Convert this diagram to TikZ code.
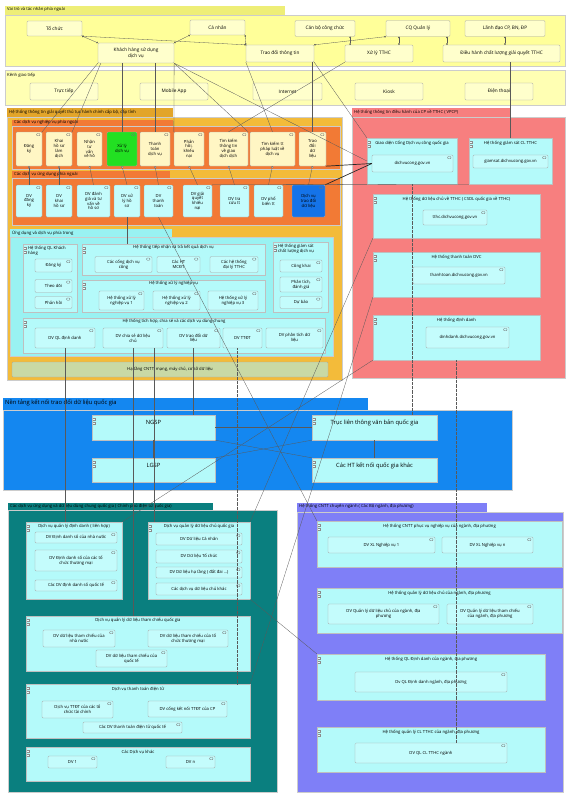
\documentclass[tikz,border=0pt]{standalone}
\usepackage{fontspec}
\setmainfont{Open Sans}
\usetikzlibrary{arrows.meta}

\definecolor{ygrp}{HTML}{FFFF99}
\definecolor{ytab}{HTML}{EEEE77}
\definecolor{ykenh}{HTML}{FFFFB3}
\definecolor{yitem}{HTML}{FFFFCC}
\definecolor{goldgrp}{HTML}{F3BB3A}
\definecolor{goldtab}{HTML}{E2A52A}
\definecolor{orng}{HTML}{F27A35}
\definecolor{oitem}{HTML}{FFF6C4}
\definecolor{cyanbg}{HTML}{99F2F2}
\definecolor{cyanbox}{HTML}{B4FAFA}
\definecolor{cyanitem}{HTML}{C4FCFC}
\definecolor{infra}{HTML}{C9D9A5}
\definecolor{salmon}{HTML}{F77F7F}
\definecolor{blueband}{HTML}{1487F0}
\definecolor{tealgrp}{HTML}{0A7F7F}
\definecolor{purp}{HTML}{7F7FF7}
\definecolor{greenit}{HTML}{22E022}
\definecolor{blueit}{HTML}{1573E8}

\begin{document}
\begin{tikzpicture}[x=1pt,y=-1pt,
  wh/.style 2 args={minimum width=#1pt,minimum height=#2pt},
  txt/.style={font=\fontsize{4.2}{4.9}\selectfont, inner sep=1pt},
  item/.style={txt, draw=black!35, fill=#1, rounded corners=1.2pt, align=center, inner sep=0.5pt, line width=0.3pt},
  yitm/.style={item=yitem, font=\fontsize{4.7}{5.5}\selectfont},
  svc/.style={item=#1, path picture={\draw[black!55,line width=0.3pt,rounded corners=0.8pt] ([xshift=-5.5pt,yshift=-1.5pt]path picture bounding box.north east) rectangle ++(3.5pt,-2.2pt);}},
  cbox/.style={draw=black!25, fill=#1, line width=0.3pt, inner sep=0pt,
    path picture={\foreach \dy in {3,7}{\draw[black!45,fill=white!70!#1,line width=0.3pt] ([xshift=0.6pt,yshift=-\dy pt]path picture bounding box.north west) rectangle ++(2.6pt,-2.2pt);}}},
  clbl/.style={txt, anchor=north, align=center},
  blbl/.style={clbl, font=\fontsize{5.8}{7}\selectfont},
  glbl/.style={txt, anchor=north west},
  grp/.style={fill=#1, draw=black!20, line width=0.2pt},
  conn/.style={draw=black!65, line width=0.3pt},
  dconn/.style={conn, densely dotted},
  thk/.style={draw=black!85, line width=0.7pt},
  asg/.style={conn, {Circle[length=1.6pt]}-{Circle[length=1.6pt]}},
  real/.style={conn, {Circle[length=2.2pt,fill=white]}-},
]
\useasboundingbox (0,0) rectangle (573,800);

% groups
\fill[ytab] (5,6) rectangle (285,15);
\fill[grp=ygrp] (5,15) rectangle (565,66);
\node[glbl] at (6,6.5) {Vai trò và tác nhân phía ngoài};
\fill[grp=ykenh] (5,70) rectangle (565,105);
\node[glbl] at (6,72) {Kênh giao tiếp};

\fill[goldtab] (7,108) rectangle (173,117);
\fill[grp=goldgrp] (7,117) rectangle (342,380);
\node[glbl] at (8,108.5) {Hệ thống thông tin giải quyết thủ tục hành chính cấp bộ, cấp tỉnh};
\fill[orng] (12,120) rectangle (173,126);
\fill[grp=orng] (12,126) rectangle (340,169);
\node[glbl] at (13,119.5) {Các dịch vụ nghiệp vụ phía ngoài};
\fill[orng] (12,171) rectangle (170,178);
\fill[grp=orng] (12,178) rectangle (340,225);
\node[glbl] at (13,171) {Các dịch vụ ứng dụng phía ngoài};
\fill[cyanbg] (10,229) rectangle (172,237);
\fill[grp=cyanbg] (10,237) rectangle (333,356);
\node[glbl] at (11,229) {Ứng dụng và dịch vụ phía trong};

\fill[salmon] (352,108) rectangle (510,117);
\fill[grp=salmon] (352,117) rectangle (565,378);
\node[glbl] at (353,108.5) {Hệ thống thông tin điều hành của CP về TTHC ( VPCP)};

\fill[blueband] (3,398) rectangle (368,410);
\fill[grp=blueband] (3,410) rectangle (512,490);
\node[glbl, font=\fontsize{5.8}{7}\selectfont] at (4,398) {Nền tảng kết nối trao đổi dữ liệu quốc gia};

\fill[tealgrp] (8,503) rectangle (213,510);
\fill[grp=tealgrp] (8,510) rectangle (277,792);
\node[glbl] at (9,502.5) {Các dịch vụ ứng dụng và dữ liệu dùng chung quốc gia ( Chính phủ điện tử quốc gia)};

\fill[purp] (297,503) rectangle (487,512);
\fill[grp=purp] (297,512) rectangle (563,792);
\node[glbl] at (298,503) {Hệ thống CNTT chuyên ngành ( Các Bộ ngành, địa phương)};

% actors and roles
\node[yitm, wh={55}{15}] (tochuc) at (54.5,28.5) {Tổ chức};
\node[yitm, wh={55}{15}] (canhan) at (217.5,27.5) {Cá nhân};
\node[yitm, wh={60}{16}] (canbo) at (325,28.5) {Cán bộ công chức};
\node[yitm, wh={64}{16}] (cqql) at (418,28.5) {CQ Quản lý};
\node[yitm, wh={80}{16}] (lanhdao) at (505,28.5) {Lãnh đạo CP, BN, ĐP};
\node[yitm, wh={76}{20}] (khachhang) at (136,53) {Khách hàng sử dụng\\dịch vụ};
\node[yitm, wh={68}{17}] (traodoi) at (280,53.5) {Trao đổi thông tin};
\node[yitm, wh={68}{17}] (xuly) at (379,53.5) {Xử lý TTHC};
\node[yitm, wh={117}{17}] (dieuhanh) at (501.5,53.5) {Điều hành chất lượng giải quyết TTHC};

% channels
\node[yitm, wh={68}{17}] (tructiep) at (64,91.5) {Trực tiếp};
\node[yitm, wh={68}{17}] (mobile) at (174,91.5) {Mobile App};
\node[yitm, wh={69}{17}] (internet) at (287.5,91.5) {Internet};
\node[yitm, wh={68}{17}] (kiosk) at (389,91.5) {Kiosk};
\node[yitm, wh={68}{17}] (dienthoai) at (499,91.5) {Điện thoại};

% business services
\node[svc=oitem, wh={26}{34}] (dangky1) at (29,149) {Đăng\\ký};
\node[svc=oitem, wh={26}{34}] (khaihs) at (59,149) {Khai\\hồ sơ\\làm\\dịch};
\node[svc=oitem, wh={25}{34}] (nhantv) at (89.5,149) {Nhận\\tư\\vấn\\về hồ};
\node[svc=greenit, wh={30}{34}] (xulydv) at (122,149) {Xử lý\\dịch vụ};
\node[svc=oitem, wh={30}{34}] (thanhtoan1) at (155,149) {Thanh\\toán\\dịch vụ};
\node[svc=oitem, wh={30}{34}] (phanhoi) at (189,149) {Phản\\hồi,\\khiếu\\nại};
\node[svc=oitem, wh={39}{34}] (timkiem) at (228.5,149) {Tìm kiếm\\thông tin\\về giao\\dịch dịch};
\node[svc=oitem, wh={45}{34}] (timkiemtt) at (272.5,149) {Tìm kiếm tt\\pháp luật về\\dịch vụ};
\node[svc=oitem, wh={27}{34}] (traodoidl) at (312.5,149) {Trao\\đổi\\dữ\\liệu};

% application services
\node[svc=cyanitem, wh={26}{32}] (dvdangky) at (29,201) {DV\\đăng\\ký};
\node[svc=cyanitem, wh={26}{32}] (dvkhai) at (59,201) {DV\\khai\\hồ sơ};
\node[svc=cyanitem, wh={33}{32}] (dvdanhgia) at (93.5,201) {DV đánh\\giá và tư\\vấn về\\hồ sơ};
\node[svc=cyanitem, wh={26}{32}] (dvxuly) at (127,201) {DV xử\\lý hồ\\sơ};
\node[svc=cyanitem, wh={29}{32}] (dvthanhtoan) at (158.5,201) {DV\\thanh\\toán};
\node[svc=cyanitem, wh={29}{32}] (dvkhieunai) at (197.5,201) {DV giải\\quyết\\khiếu\\nại};
\node[svc=cyanitem, wh={29}{32}] (dvtracuu) at (234.5,201) {DV tra\\cứu tt};
\node[svc=cyanitem, wh={29}{32}] (dvphobien) at (268.5,201) {DV phổ\\biến tt};
\node[svc=blueit, wh={33}{32}] (dvtraodoi) at (308.5,201) {Dịch vụ\\trao đổi\\dữ liệu};

% internal applications
\node[cbox=cyanbox, wh={54}{68}] (qlkh) at (50,278) {};
\node[glbl, align=left] at ([xshift=4pt,yshift=-1pt]qlkh.north west) {Hệ thống QL Khách\\hàng};
\node[svc=cyanitem, wh={37}{13}] (khdangky) at (53.5,265.5) {Đăng ký};
\node[svc=cyanitem, wh={37}{13}] (theodoi) at (53.5,286) {Theo dõi};
\node[svc=cyanitem, wh={37}{12}] (phanhoikh) at (53.5,302.5) {Phản hồi};

\node[cbox=cyanbox, wh={183}{31}] (tiepnhan) at (173.5,259.5) {};
\node[clbl] at ([yshift=-0.5pt]tiepnhan.north) {Hệ thống tiếp nhận và trả kết quả dịch vụ};
\node[svc=cyanitem, wh={57}{16}] (congdvc) at (123.5,264.5) {Các cổng dịch vụ\\công};
\node[svc=cyanitem, wh={43}{16}] (htmcdt) at (178.5,264.5) {Các HT\\MCĐT};
\node[svc=cyanitem, wh={48}{16}] (dailytthc) at (234,264.5) {Các hệ thống\\đại lý TTHC};

\node[cbox=cyanbox, wh={183}{32}] (xulynv) at (173.5,296) {};
\node[clbl] at ([yshift=-0.5pt]xulynv.north) {Hệ thống xử lý nghiệp vụ};
\node[svc=cyanitem, wh={45}{19}] (nv1) at (121.5,300.5) {Hệ thống xử lý\\nghiệp vụ 1};
\node[svc=cyanitem, wh={47}{19}] (nv2) at (176.5,300.5) {Hệ thống xử lý\\nghiệp vụ 2};
\node[svc=cyanitem, wh={50}{19}] (nv3) at (233,300.5) {Hệ thống xử lý\\nghiệp vụ 3};

\node[cbox=cyanbox, wh={55}{70}] (giamsatcl) at (300.5,277) {};
\node[glbl, align=left] at ([xshift=4pt,yshift=-1pt]giamsatcl.north west) {Hệ thống giám sát\\chất lượng dịch vụ};
\node[svc=cyanitem, wh={42}{12}] (congkhai) at (301,266) {Công khai};
\node[svc=cyanitem, wh={42}{15}] (phantich) at (301,284.5) {Phân tích,\\đánh giá};
\node[svc=cyanitem, wh={42}{12}] (dubao) at (301,302.5) {Dự báo};

\node[cbox=cyanbox, wh={302}{35}] (tichhop) at (174,335.5) {};
\node[clbl] at ([yshift=-0.5pt]tichhop.north) {Hệ thống tích hợp, chia sẻ và các dịch vụ dùng chung};
\node[svc=cyanitem, wh={60}{20}] (dvqldd) at (65,338) {DV QL định danh};
\node[svc=cyanitem, wh={60}{20}] (dvchiase) at (133,338) {DV chia sẻ dữ liệu\\chủ};
\node[svc=cyanitem, wh={53}{20}] (dvtraodoidl) at (193.5,338) {DV trao đổi dữ\\liệu};
\node[svc=cyanitem, wh={39}{20}] (dvttdt) at (242.5,338) {DV TTĐT};
\node[svc=cyanitem, wh={57}{20}] (dvphantich) at (294.5,338) {DV phân tích dữ\\liệu};

\node[item=infra, wh={316}{15}] (hatang) at (170,369.5) {Hạ tầng CNTT, mạng, máy chủ, cơ sở dữ liệu};

% government portal systems
\node[cbox=cyanbox, wh={90}{46}] (congdvc_qg) at (412,161) {};
\node[clbl] at ([yshift=-2pt]congdvc_qg.north) {Giao diện Cổng Dịch vụ công quốc gia};
\node[svc=cyanitem, wh={81}{17}] (dichvucong) at (412.5,163.5) {dichvucong.gov.vn};
\node[cbox=cyanbox, wh={83}{46}] (giamsat) at (510.5,161) {};
\node[clbl] at ([yshift=-2pt]giamsat.north) {Hệ thống giám sát CL TTHC};
\node[svc=cyanitem, wh={75}{13}] (giamsatdv) at (510.5,161.5) {giamsat.dichvucong.gov.vn};
\node[cbox=cyanbox, wh={167}{44}] (csdltthc) at (456.5,216) {};
\node[clbl] at ([yshift=-2pt]csdltthc.north) {Hệ thống dữ liệu chủ về TTHC ( CSDL quốc gia về TTHC)};
\node[svc=cyanitem, wh={64}{15}] (tthcdv) at (455,217.5) {tthc.dichvucong.gov.vn};
\node[cbox=cyanbox, wh={167}{45}] (thanhtoandvc) at (456.5,274.5) {};
\node[clbl] at ([yshift=-2pt]thanhtoandvc.north) {Hệ thống thanh toán DVC};
\node[svc=cyanitem, wh={92}{17}] (thanhtoandv) at (459,275.5) {thanhtoan.dichvucong.gov.vn};
\node[cbox=cyanbox, wh={167}{45}] (dinhdanh) at (456.5,337.5) {};
\node[clbl] at ([yshift=-2pt]dinhdanh.north) {Hệ thống định danh};
\node[svc=cyanitem, wh={83}{21}] (dinhdanhdv) at (467.5,337.5) {dinhdanh.dichvucong.gov.vn};

% national data exchange
\node[cbox=cyanbox, wh={123}{25}] (ngsp) at (153.5,427.5) {};
\node[blbl] at ([yshift=-4pt]ngsp.north) {NGSP};
\node[cbox=cyanbox, wh={123}{24}] (lgsp) at (153.5,470) {};
\node[blbl] at ([yshift=-4pt]lgsp.north) {LGSP};
\node[cbox=cyanbox, wh={125}{25}] (truc) at (374.5,427.5) {};
\node[blbl] at ([yshift=-4pt]truc.north) {Trục liên thông văn bản quốc gia};
\node[cbox=cyanbox, wh={125}{24}] (cacht) at (374.5,470) {};
\node[blbl] at ([yshift=-4pt]cacht.north) {Các HT kết nối quốc gia khác};

% national shared services
\node[cbox=cyanbox, wh={96}{77}] (qldd) at (74,560.5) {};
\node[clbl] at ([yshift=-1pt]qldd.north) {Dịch vụ quản lý định danh ( liên hợp)};
\node[svc=cyanitem, wh={82}{11}] (dd1) at (76,537.5) {DV Định danh số của nhà nước};
\node[svc=cyanitem, wh={82}{21}] (dd2) at (76,560.5) {DV Định danh số của các tổ\\chức thương mại};
\node[svc=cyanitem, wh={82}{11}] (dd3) at (76,585.5) {Các DV định danh số quốc tế};

\node[cbox=cyanbox, wh={102}{77}] (qldlc) at (199,560.5) {};
\node[clbl] at ([yshift=-1pt]qldlc.north) {Dịch vụ quản lý dữ liệu chủ quốc gia};
\node[svc=cyanitem, wh={86}{12}] (dl1) at (199,539) {DV Dữ liệu Cá nhân};
\node[svc=cyanitem, wh={86}{13}] (dl2) at (199,556.5) {DV Dữ liệu Tổ chức};
\node[svc=cyanitem, wh={86}{11}] (dl3) at (199,572.5) {DV Dữ liệu hạ tầng ( đất đai ...)};
\node[svc=cyanitem, wh={86}{12}] (dl4) at (199,589) {Các dịch vụ dữ liệu chủ khác};

\node[cbox=cyanbox, wh={224}{55}] (qltc) at (138,643.5) {};
\node[clbl] at ([yshift=-1pt]qltc.north) {Dịch vụ quản lý dữ liệu tham chiếu quốc gia};
\node[svc=cyanitem, wh={72}{17}] (tc1) at (79,638.5) {DV dữ liệu tham chiếu của\\nhà nước};
\node[svc=cyanitem, wh={80}{17}] (tc2) at (188,638.5) {DV dữ liệu tham chiếu của tổ\\chức thương mại};
\node[svc=cyanitem, wh={71}{17}] (tc3) at (131.5,658.5) {DV dữ liệu tham chiếu của\\quốc tế};

\node[cbox=cyanbox, wh={224}{54}] (tt) at (138,711) {};
\node[clbl] at ([yshift=-2pt]tt.north) {Dịch vụ thanh toán điện tử};
\node[svc=cyanitem, wh={71}{17}] (tt1) at (77.5,709.5) {Dịch vụ TTĐT của các tổ\\chức tài chính};
\node[svc=cyanitem, wh={79}{16}] (tt2) at (187.5,709) {DV cổng kết nối TTĐT của CP};
\node[svc=cyanitem, wh={99}{11}] (tt3) at (132.5,727.5) {Các DV thanh toán điện tử quốc tế};

\node[cbox=cyanbox, wh={224}{34}] (khac) at (138,764) {};
\node[clbl] at ([yshift=-2pt]khac.north) {Các Dịch vụ khác};
\node[svc=cyanitem, wh={49}{12}] (dv1) at (72.5,762) {DV 1};
\node[svc=cyanitem, wh={49}{12}] (dvn) at (190.5,762) {DV n};

% sector systems
\node[cbox=cyanbox, wh={245}{46}] (p1) at (439.5,544) {};
\node[clbl] at ([yshift=-2pt]p1.north) {Hệ thống CNTT phục vụ nghiệp vụ của ngành, địa phương};
\node[svc=cyanitem, wh={107}{16}] (pn1) at (381.5,545) {DV XL Nghiệp vụ 1};
\node[svc=cyanitem, wh={91}{16}] (pnn) at (487.5,545) {DV XL Nghiệp vụ n};
\node[cbox=cyanbox, wh={245}{45}] (p2) at (439.5,610.5) {};
\node[clbl] at ([yshift=-2pt]p2.north) {Hệ thống quản lý dữ liệu chủ của ngành, địa phương};
\node[svc=cyanitem, wh={111}{20}] (pd1) at (383.5,614) {DV Quản lý dữ liệu chủ của ngành, địa\\phương};
\node[svc=cyanitem, wh={86}{20}] (pd2) at (490,614) {DV Quản lý dữ liệu tham chiếu\\của ngành, địa phương};
\node[cbox=cyanbox, wh={228}{46}] (p3) at (431,677) {};
\node[clbl] at ([yshift=-2pt]p3.north) {Hệ thống QL Định danh của ngành, địa phương};
\node[svc=cyanitem, wh={152}{20}] (pdd) at (431,682) {Dv QL Định danh ngành, địa phương};
\node[cbox=cyanbox, wh={228}{45}] (p4) at (431,749.5) {};
\node[clbl] at ([yshift=-2pt]p4.north) {Hệ thống quản lý CL TTHC của ngành, địa phương};
\node[svc=cyanitem, wh={152}{20}] (pcl) at (431,753) {DV QL CL TTHC ngành};

% assignments
\draw[asg] (tochuc.south east) -- (khachhang.north west);
\draw[asg] (tochuc.south east) -- (traodoi.north west);
\draw[asg] (canhan.south west) -- (khachhang.north east);
\draw[asg] (canhan.south east) -- (traodoi.north west);
\draw[asg] (cqql.south west) -- (traodoi.north east);
\draw[asg] ([xshift=-5pt]canbo.south east) -- ([xshift=-5pt]canbo.south east |- xuly.north);
\draw[asg] ([xshift=-19pt]cqql.south) -- ([xshift=-19pt]cqql.south |- xuly.north);
\draw[asg] ([xshift=29pt]cqql.south) -- ([xshift=29pt]cqql.south |- dieuhanh.north);
\draw[asg] (lanhdao.south) -- (lanhdao.south |- dieuhanh.north);

% customer and roles to services
\draw[conn] (khachhang.south west) -- (dangky1.north east);
\draw[conn] ([xshift=3pt]khachhang.south west) -- (khaihs.north east);
\draw[conn] (khachhang.south -| xulydv.north) -- (xulydv.north);
\draw[conn] (khachhang.south -| thanhtoan1.north) -- (thanhtoan1.north);
\draw[conn] (khachhang.south east) -- (phanhoi.north west);
\draw[conn] (khachhang.south east) -- (timkiem.north east);
\draw[conn] (khachhang.south east) -- (congdvc_qg.west);
\draw[conn] (traodoi.south west) -- (timkiemtt.north);
\draw[conn] (traodoi.south -| traodoidl.north) -- (traodoidl.north);
\draw[conn] (traodoi.south east) -- (congdvc_qg.north west);
\draw[conn] (xuly.south west) -- (timkiem.north);
\draw[conn] (dieuhanh.south -| giamsat.north) -- (giamsat.north);

% realizations
\foreach \a/\b in {dangky1/dvdangky, khaihs/dvkhai, nhantv/dvdanhgia, xulydv/dvxuly, thanhtoan1/dvthanhtoan, phanhoi/dvkhieunai, timkiem/dvtracuu, timkiemtt/dvphobien, traodoidl/dvtraodoi}
  \draw[real] (\a.south) -- (\b.north);

\draw[thk] (dvtraodoi.north east) -- (dichvucong.west);
\draw[thk] (traodoidl.south east) -- (dichvucong.west);
\draw[conn] (dvphobien.north east) -- (congdvc_qg.south west);
\draw[conn] (dvkhieunai.north east) -- (giamsat.south west);
\draw[conn] (dvxuly.south) -- (dvxuly.south |- tiepnhan.north);
\draw[conn] (dvthanhtoan.south) -- (p1.north west);

% shared services downwards
\draw[conn] (dvqldd.south) -- (dvqldd.south |- qldd.north);
\draw[conn] (dvchiase.south) -- (dvchiase.south |- qltc.north);
\draw[conn] ([xshift=21pt]dvchiase.south) -- ([xshift=21pt]dvchiase.south |- qldlc.north);
\draw[conn] (dvtraodoidl.south) -- (dvtraodoidl.south |- ngsp.north);
\draw[dconn] ([xshift=-5pt]dvttdt.south) -- ([xshift=-5pt]dvttdt.south |- tt.north);

% data exchange
\draw[conn] (ngsp.east) -- (truc.west);
\draw[conn] (lgsp.north) -- (ngsp.south);
\draw[conn] (cacht.north) -- (truc.south);
\draw[conn] (lgsp.north east) -- (truc.south west);
\draw[conn] (ngsp.south east) -- (cacht.north west);

% portal systems downwards
\draw[dconn] (congdvc_qg.south) -- (congdvc_qg.south |- truc.north);
\draw[dconn] (dinhdanh.south) -- (dinhdanh.south |- pcl.north);
\draw[conn] (dinhdanh.south west) -- (qldd.north east);
\draw[conn] (csdltthc.south west) -- (qldlc.north east);
\draw[conn] (thanhtoandvc.south west) -- (tt.north east);
\draw[conn] (qldlc.south east) -- (p3.north west);
\end{tikzpicture}
\end{document}
